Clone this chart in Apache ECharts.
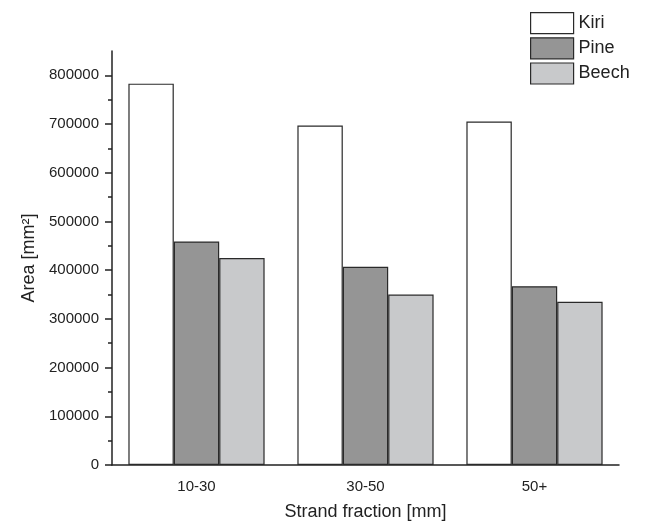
<!DOCTYPE html>
<html>
<head>
<meta charset="utf-8">
<script src="https://cdn.jsdelivr.net/npm/echarts@6/dist/echarts.min.js"></script>
<style>
  html, body { margin: 0; padding: 0; background: #fff; }
  #chart { width: 646px; height: 526px; }
</style>
</head>
<body>
<div id="chart"></div>
<script>
// data
const categories = ['10-30', '30-50', '50+'];
const kiri = [783000, 697000, 705000];
const pine = [459000, 407000, 367000];
const beech = [425000, 350000, 335000];
const majorTicks = [0, 100000, 200000, 300000, 400000, 500000, 600000, 700000, 800000];
const minorTicks = [50000, 150000, 250000, 350000, 450000, 550000, 650000, 750000];

const chart = echarts.init(document.getElementById('chart'));
const font = 'Liberation Sans, Arial, sans-serif';
const ink = '#222';

const barStyle = (fill) => ({ color: fill, borderColor: '#2a2a2a', borderWidth: 1.2 });

const option = {
  backgroundColor: '#fff',
  animation: false,
  textStyle: { fontFamily: font, color: ink },
  grid: { left: 112, right: 27, top: 51, bottom: 61 },
  legend: {
    orient: 'vertical',
    left: 530,
    top: 12,
    padding: 0,
    itemWidth: 43,
    itemHeight: 21,
    itemGap: 3,
    icon: 'rect',
    textStyle: { fontSize: 18, color: ink, fontFamily: font },
    itemStyle: { borderColor: '#2a2a2a', borderWidth: 1.2 },
    data: ['Kiri', 'Pine', 'Beech']
  },
  xAxis: [
    {
      type: 'category',
      data: categories,
      name: 'Strand fraction [mm]',
      nameLocation: 'middle',
      nameGap: 38,
      nameTextStyle: { fontSize: 18, color: ink, fontFamily: font },
      axisLine: { lineStyle: { color: ink, width: 1.5 } },
      axisTick: { alignWithLabel: true, inside: false, length: 8, lineStyle: { color: ink, width: 1.5 } },
      axisLabel: { fontSize: 15, color: ink, margin: 14, fontFamily: font }
    },
    {
      type: 'category',
      data: categories,
      position: 'bottom',
      axisLine: { show: false },
      axisTick: { length: 4, lineStyle: { color: ink, width: 1.5 } },
      axisLabel: { show: false }
    }
  ],
  yAxis: [
    {
      type: 'value',
      min: 0,
      max: 850000,
      interval: 100000,
      name: 'Area [mm²]',
      nameLocation: 'middle',
      nameGap: 74,
      nameRotate: 90,
      nameTextStyle: { fontSize: 18, color: ink, fontFamily: font },
      splitLine: { show: false },
      axisLine: { show: true, lineStyle: { color: ink, width: 1.5 } },
      axisTick: { show: true, length: 7, customValues: majorTicks, lineStyle: { color: ink, width: 1.5 } },
      axisLabel: {
        fontSize: 15, color: ink, margin: 13, customValues: majorTicks, fontFamily: font,
        formatter: (v) => String(v)
      }
    },
    {
      type: 'value',
      min: 0,
      max: 850000,
      interval: 50000,
      position: 'left',
      splitLine: { show: false },
      axisLine: { show: false },
      axisTick: { show: true, length: 4, customValues: minorTicks, lineStyle: { color: ink, width: 1.5 } },
      axisLabel: { show: false }
    }
  ],
  series: [
    { name: 'Kiri', type: 'bar', data: kiri, barGap: '0%', barCategoryGap: '19.4%', itemStyle: barStyle('#ffffff') },
    { name: 'Pine', type: 'bar', data: pine, barGap: '0%', barCategoryGap: '19.4%', itemStyle: barStyle('#959595') },
    { name: 'Beech', type: 'bar', data: beech, barGap: '0%', barCategoryGap: '19.4%', itemStyle: barStyle('#c8c9cb') }
  ]
};

chart.setOption(option);
</script>
</body>
</html>
